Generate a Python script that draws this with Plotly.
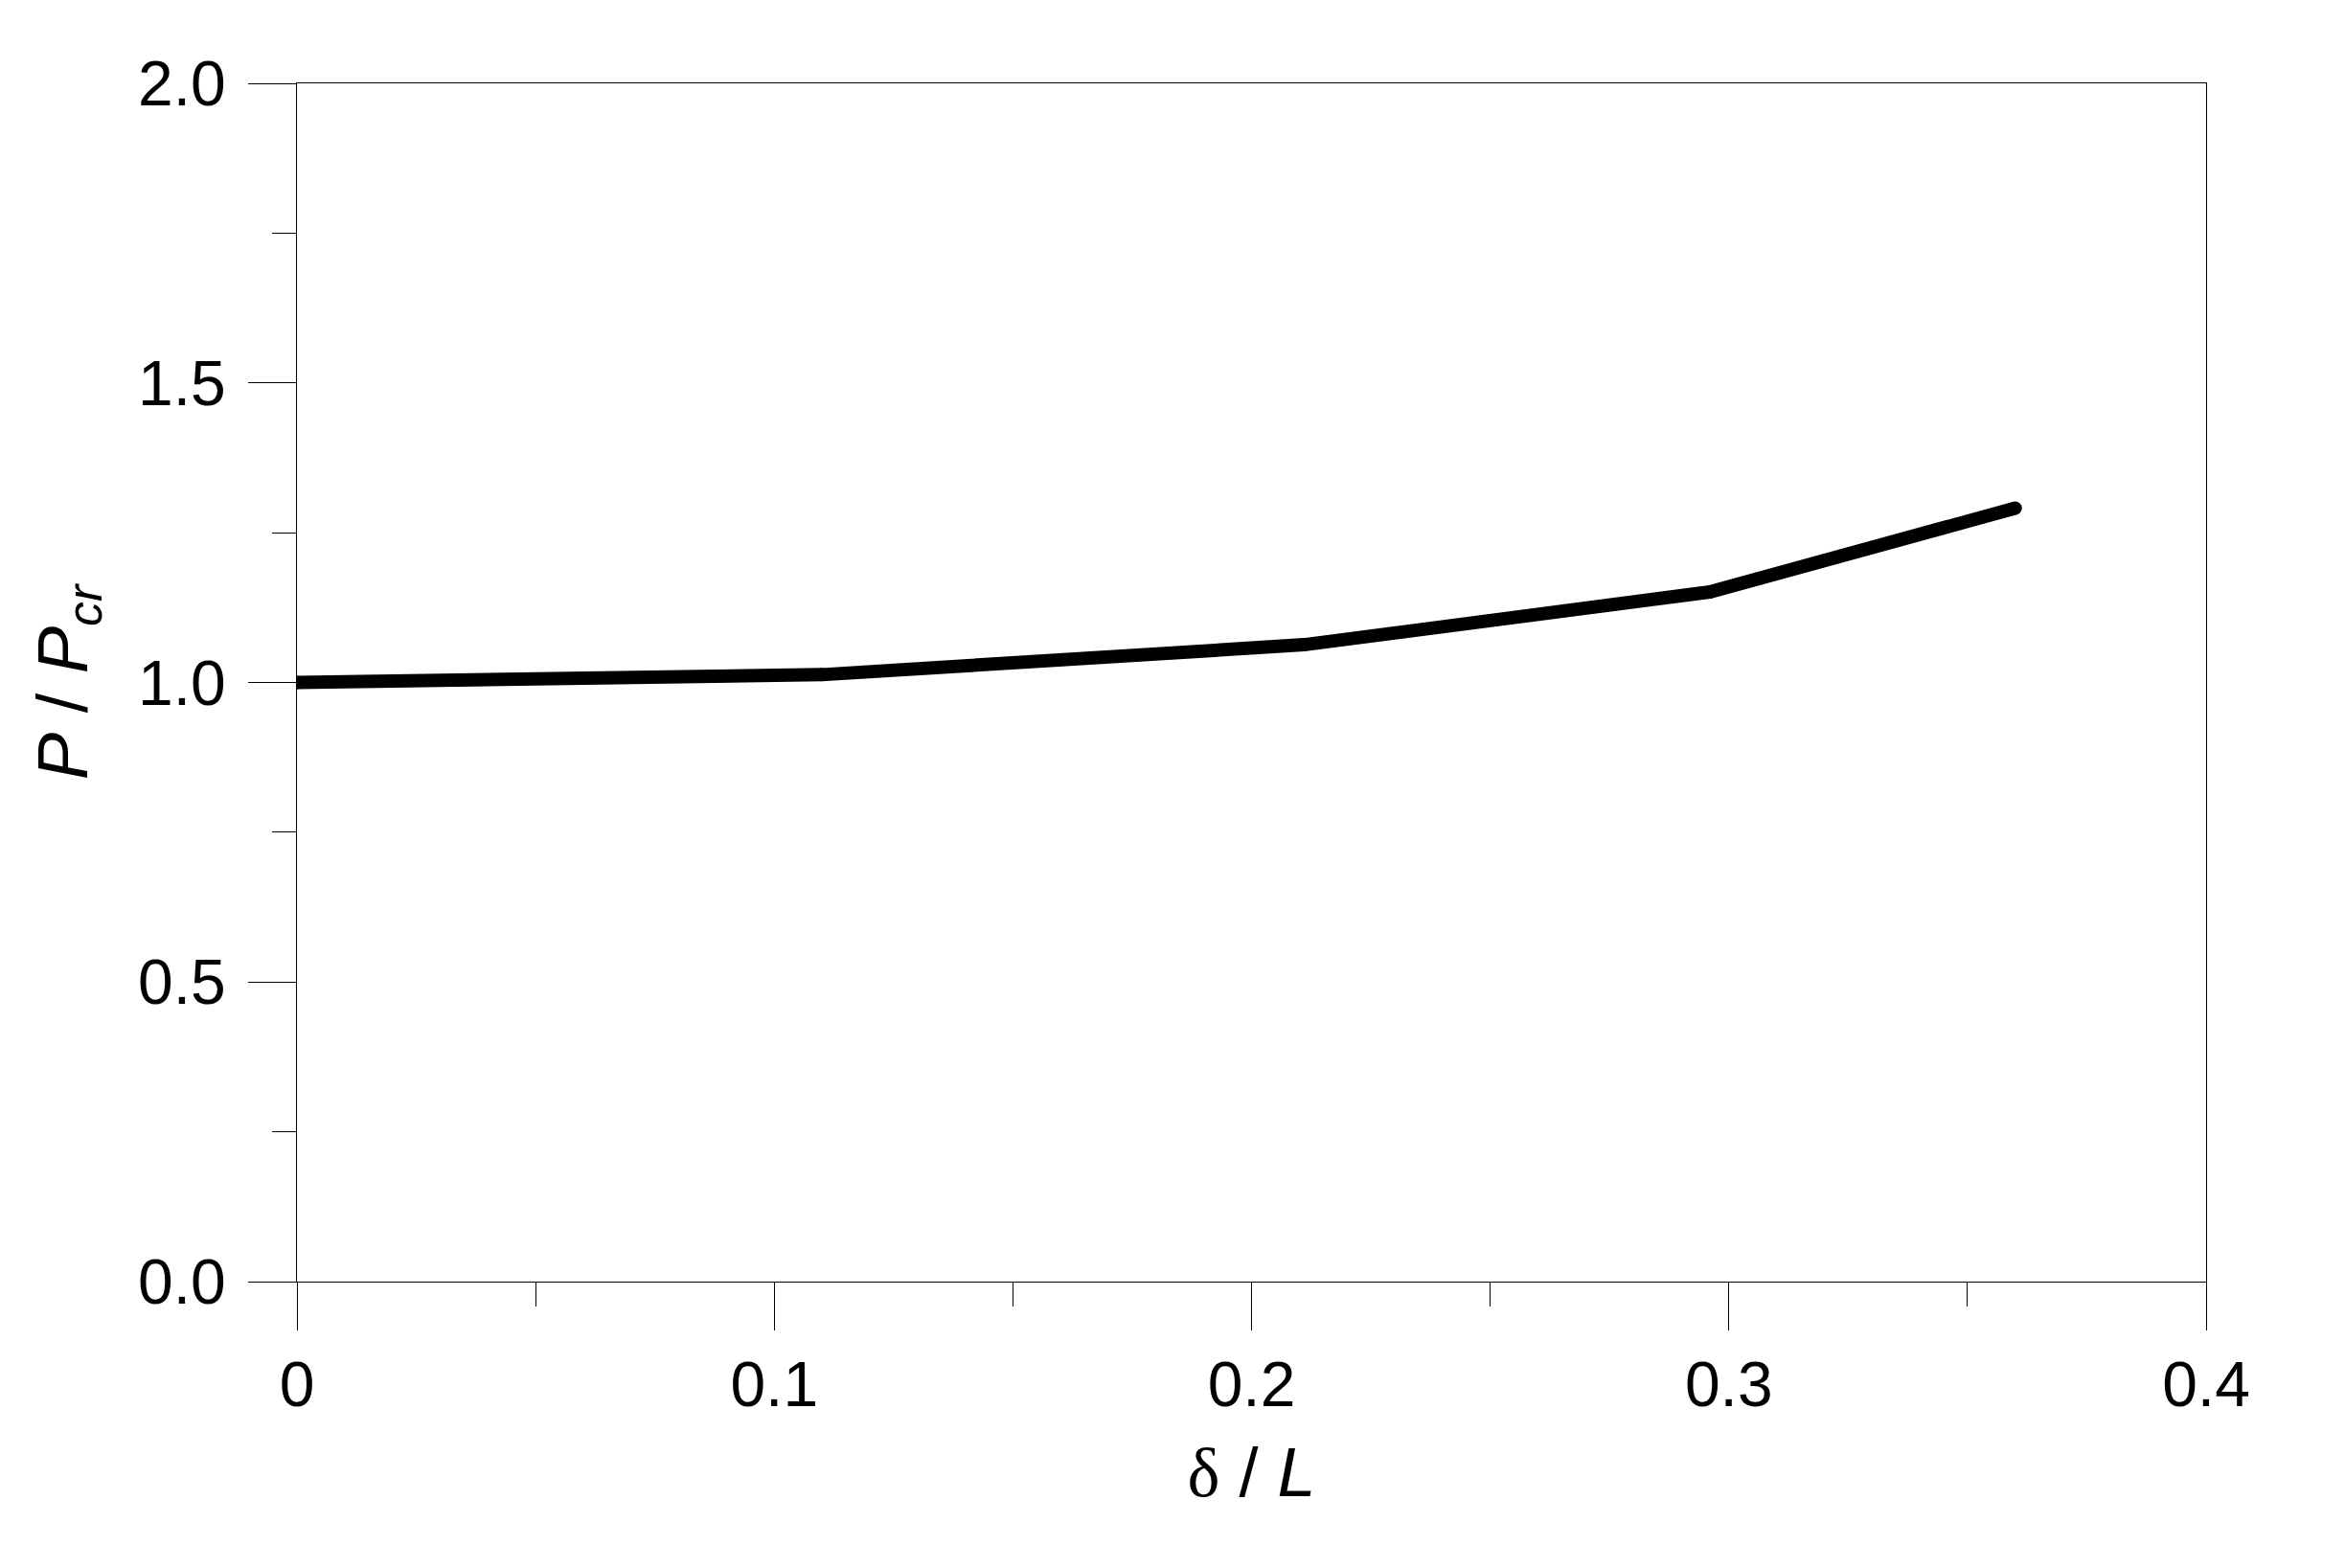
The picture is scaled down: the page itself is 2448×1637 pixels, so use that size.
import plotly.graph_objects as go

# Data
delta_over_L = [0.0, 0.11, 0.211, 0.296, 0.36]
P_over_Pcr = [1.0, 1.013, 1.063, 1.151, 1.291]

x_tickvals = [0, 0.1, 0.2, 0.3, 0.4]
x_ticktext = ["0", "0.1", "0.2", "0.3", "0.4"]
y_tickvals = [0.0, 0.5, 1.0, 1.5, 2.0]
y_ticktext = ["0.0", "0.5", "1.0", "1.5", "2.0"]

FONT = "Liberation Sans, Arial, sans-serif"

fig = go.Figure()
fig.add_trace(go.Scatter(
    x=delta_over_L, y=P_over_Pcr, mode="lines+markers",
    line=dict(color="black", width=14),
    marker=dict(color="black", size=14, line=dict(width=0)),
    showlegend=False, hoverinfo="skip",
))

axis_common = dict(
    showgrid=False, zeroline=False,
    showline=True, linecolor="black", linewidth=1, mirror=True,
    ticks="outside", ticklen=50, tickwidth=1, tickcolor="black",
    tickfont=dict(family=FONT, size=66, color="black"),
)

fig.update_xaxes(
    range=[0, 0.4], tickvals=x_tickvals, ticktext=x_ticktext,
    minor=dict(ticks="outside", ticklen=25, tickwidth=1, tickcolor="black", dtick=0.05, showgrid=False),
    title=dict(text="<span style='font-family:Liberation Serif'>δ</span> / <i>L</i>",
               font=dict(family=FONT, size=72, color="black"), standoff=30),
    **axis_common,
)
fig.update_yaxes(
    range=[0, 2.0], tickvals=y_tickvals, ticktext=y_ticktext,
    minor=dict(ticks="outside", ticklen=25, tickwidth=1, tickcolor="black", dtick=0.25, showgrid=False),
    ticklabelstandoff=10,
    title=dict(text="<i>P</i> / <i>P</i><sub><i>cr</i></sub>",
               font=dict(family=FONT, size=74, color="black"), standoff=28),
    **axis_common,
)

fig.update_layout(
    width=2440, height=1629,
    margin=dict(l=302, r=145, t=79, b=299),
    paper_bgcolor="white", plot_bgcolor="white",
)

fig.write_html("out.html")
